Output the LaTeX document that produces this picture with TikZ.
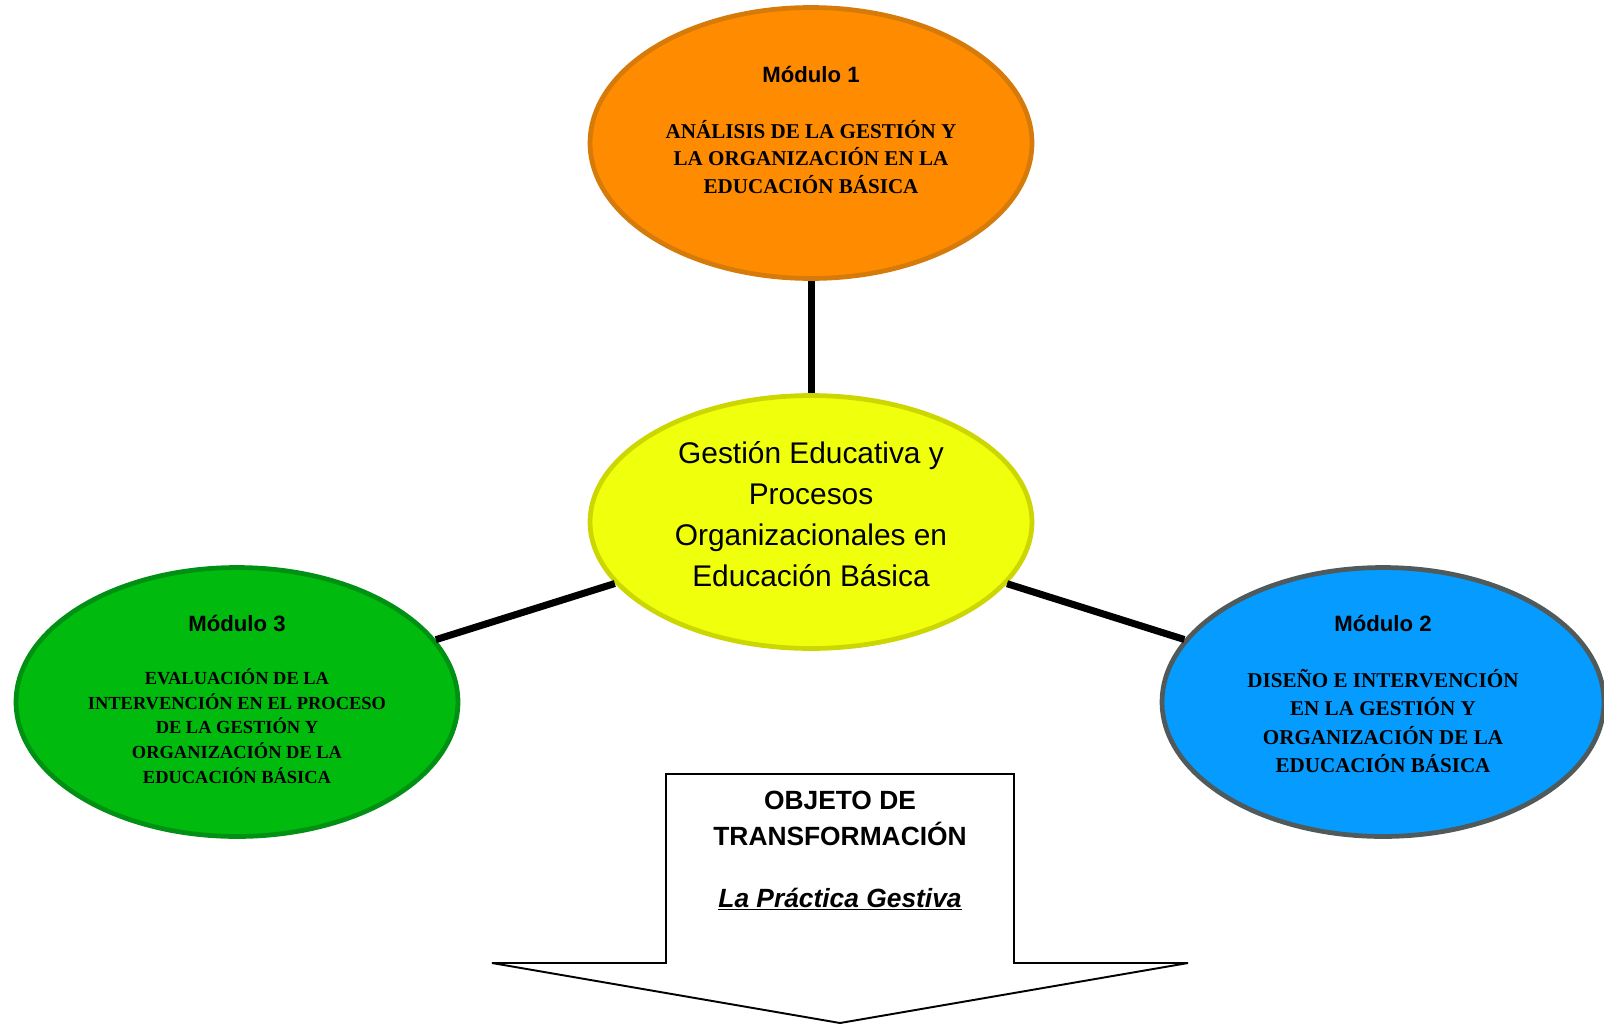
\documentclass[tikz,border=0pt]{standalone}
\usepackage{fontspec}
\setmainfont{Liberation Serif}
\setsansfont{Liberation Sans}
\usetikzlibrary{shapes.geometric}
\definecolor{modone}{RGB}{255,140,0}
\definecolor{modoneline}{RGB}{214,122,10}
\definecolor{modtwo}{RGB}{5,155,255}
\definecolor{modtwoline}{RGB}{80,90,90}
\definecolor{modthree}{RGB}{0,187,14}
\definecolor{modthreeline}{RGB}{0,145,20}
\definecolor{core}{RGB}{240,255,12}
\definecolor{coreline}{RGB}{204,214,0}
\newcommand{\thickul}[1]{\underline{#1}}
\begin{document}
\begin{tikzpicture}[x=0.02cm,y=-0.02cm,
    every node/.append style={inner sep=0pt},
    modulo/.style={ellipse,line width=2.7pt,minimum width=8.84cm,minimum height=5.38cm},
    head/.style={font=\sffamily\bfseries\fontsize{12.6}{15}\selectfont},
    body/.style={align=center,font=\bfseries\fontsize{12}{15.7}\selectfont},
    link/.style={line width=4pt}]
    \useasboundingbox (0,0) rectangle (1604,1024);
    \node [modulo,draw=modoneline,fill=modone,minimum height=5.42cm] (m1) at (811,143) {};
    \node [head] (m1head) at (811,74) {Módulo 1};
    \node [body] (m1body) at (811,157) {ANÁLISIS DE LA GESTIÓN Y\\LA ORGANIZACIÓN EN LA\\EDUCACIÓN BÁSICA};
    \node [modulo,draw=coreline,fill=core,minimum height=5.06cm] (core) at (811,522) {};
    \node [align=center,font=\sffamily\fontsize{17}{23.3}\selectfont] (coretxt) at (811,514) {Gestión Educativa y\\Procesos\\Organizacionales en\\Educación Básica};
    \node [modulo,draw=modthreeline,fill=modthree] (m3) at (237,702) {};
    \node [head] (m3head) at (237,623) {Módulo 3};
    \node [body,font=\bfseries\fontsize{10.5}{14.1}\selectfont] (m3body) at (237,726) {EVALUACIÓN DE LA\\INTERVENCIÓN EN EL PROCESO\\DE LA GESTIÓN Y\\ORGANIZACIÓN DE LA\\EDUCACIÓN BÁSICA};
    \node [modulo,draw=modtwoline,fill=modtwo] (m2) at (1383,702) {};
    \node [head] (m2head) at (1383,623) {Módulo 2};
    \node [body,font=\bfseries\fontsize{12}{16.1}\selectfont] (m2body) at (1383,721) {DISEÑO E INTERVENCIÓN\\EN LA GESTIÓN Y\\ORGANIZACIÓN DE LA\\EDUCACIÓN BÁSICA};
    \draw [link] (m1) -- (core);
    \draw [link] (core) -- (m3);
    \draw [link] (core) -- (m2);
    \draw [line width=1.1pt] (666,774) -- (1014,774) -- (1014,963) -- (1188,963) -- (840,1023) -- (492,963) -- (666,963) -- cycle;
    \node [align=center,font=\sffamily\bfseries\fontsize{15}{20.5}\selectfont] (objeto) at (840,818) {OBJETO DE\\TRANSFORMACIÓN};
    \node [anchor=base,font=\sffamily\bfseries\itshape\fontsize{15}{20.5}\selectfont] (practica) at (840,907) {\thickul{La Práctica Gestiva}};
\end{tikzpicture}
\end{document}
